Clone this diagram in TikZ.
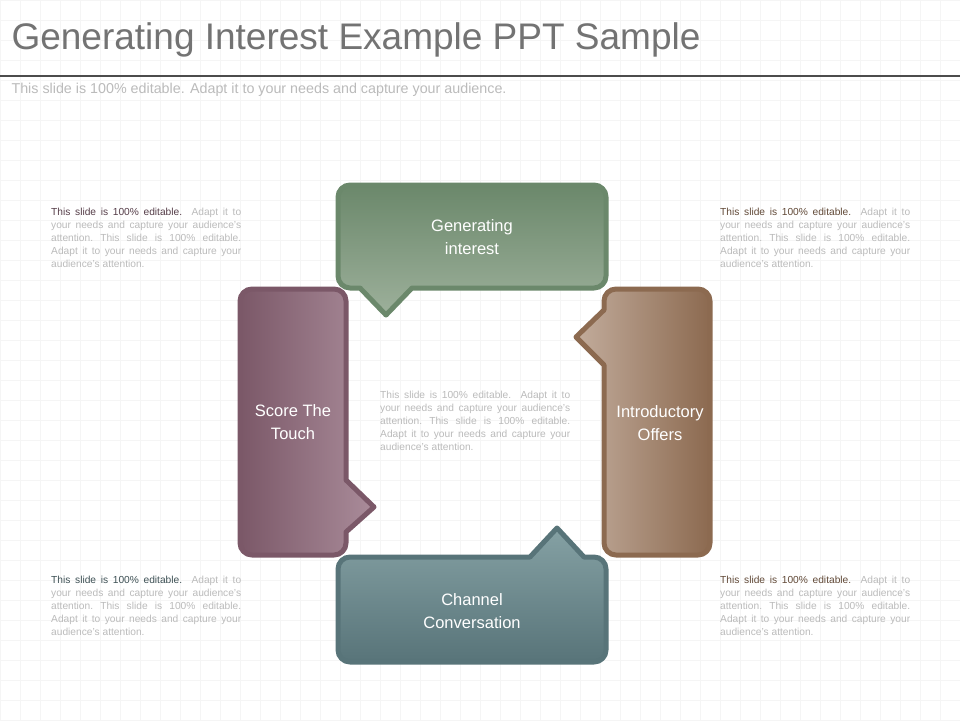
\documentclass[tikz,border=0pt]{standalone}
\usepackage{fontspec}
\setmainfont{Liberation Sans}
\definecolor{greenD}{HTML}{6B886B}
\definecolor{greenL}{HTML}{9DB09B}
\definecolor{plumD}{HTML}{7B5868}
\definecolor{plumL}{HTML}{AA8C9A}
\definecolor{brownD}{HTML}{8C6A50}
\definecolor{brownL}{HTML}{C2AC9C}
\definecolor{tealD}{HTML}{587479}
\definecolor{tealL}{HTML}{85A1A4}
\definecolor{greyT}{HTML}{BBBBBB}
\newcommand\notebody{Adapt it to your needs and capture your \mbox{audience's} \mbox{attention.} This slide is 100\% \mbox{editable.} Adapt it to your needs and capture your \mbox{audience's} \mbox{attention.}}
\begin{document}
\begin{tikzpicture}[x=1pt,y=-1pt]
\tikzstyle{bubble}=[line width=5pt,line join=round]
\tikzstyle{boxtext}=[text=white,align=center,font=\fontsize{16.5}{23}\selectfont]
\tikzstyle{note}=[text=greyT,align=justify,text width=190pt,inner sep=0pt,anchor=north west,font=\fontsize{10.2}{13}\selectfont]
\useasboundingbox (0,0) rectangle (960,720);
\fill[white] (0,0) rectangle (960,720);
\draw[black!4,step=20pt] (0,0) grid (960,720);
% header
\node[anchor=west,text=black!55,font=\fontsize{37}{40}\selectfont] (title) at (8,40) {Generating Interest Example PPT Sample};
\draw[black!70,line width=2pt] (0,76) -- (960,76);
\node[anchor=west,text=greyT,font=\fontsize{14.3}{16}\selectfont] (sub) at (8,90) {This slide is 100\% editable. Adapt it to your needs and capture your audience.};
% bubbles
\def\genpath{(338,200) [rounded corners=12pt] -- (338,185) -- (606,185) -- (606,288) [sharp corners] -- (412,288) -- (386,315) -- (360,288) [rounded corners=12pt] -- (338,288) [sharp corners] -- cycle}
\def\scorepath{(290,289) [rounded corners=12pt] -- (346,289) [sharp corners] -- (346,480) -- (374,507) -- (346,532) [rounded corners=12pt] -- (346,555) -- (240,555) -- (240,289) [sharp corners] -- cycle}
\def\intropath{(660,289) [rounded corners=12pt] -- (710,289) -- (710,555) -- (604,555) [sharp corners] -- (604,365) -- (576,337) -- (604,310) [rounded corners=12pt] -- (604,289) [sharp corners] -- cycle}
\def\chanpath{(450,557) [sharp corners] -- (530,557) -- (557,528) -- (584,557) [rounded corners=12pt] -- (606,557) -- (606,662) -- (338,662) -- (338,557) [sharp corners] -- cycle}
\shade[top color=greenD,bottom color=greenL] \genpath;
\draw[bubble,greenD] \genpath;
\shade[left color=plumD,right color=plumL] \scorepath;
\draw[bubble,plumD] \scorepath;
\shade[left color=brownL,right color=brownD] \intropath;
\draw[bubble,brownD] \intropath;
\shade[top color=tealL,bottom color=tealD] \chanpath;
\draw[bubble,tealD] \chanpath;
% labels
\node[boxtext] (gen) at (472,237) {Generating\\interest};
\node[boxtext] (score) at (293,422) {Score The\\Touch};
\node[boxtext] (intro) at (660,423) {Introductory\\Offers};
\node[boxtext] (chan) at (472,611) {Channel\\Conversation};
% notes
\node[note] (noteTL) at (51,208) {\textcolor{plumD!70!black}{This slide is 100\% editable.} \notebody};
\node[note] (noteTR) at (720,208) {\textcolor{brownD!70!black}{This slide is 100\% editable.} \notebody};
\node[note] (noteBL) at (51,576) {\textcolor{tealD!70!black}{This slide is 100\% editable.} \notebody};
\node[note] (noteBR) at (720,576) {\textcolor{brownD!70!black}{This slide is 100\% editable.} \notebody};
\node[note] (noteC) at (380,391) {This slide is 100\% editable. \notebody};
\end{tikzpicture}
\end{document}
